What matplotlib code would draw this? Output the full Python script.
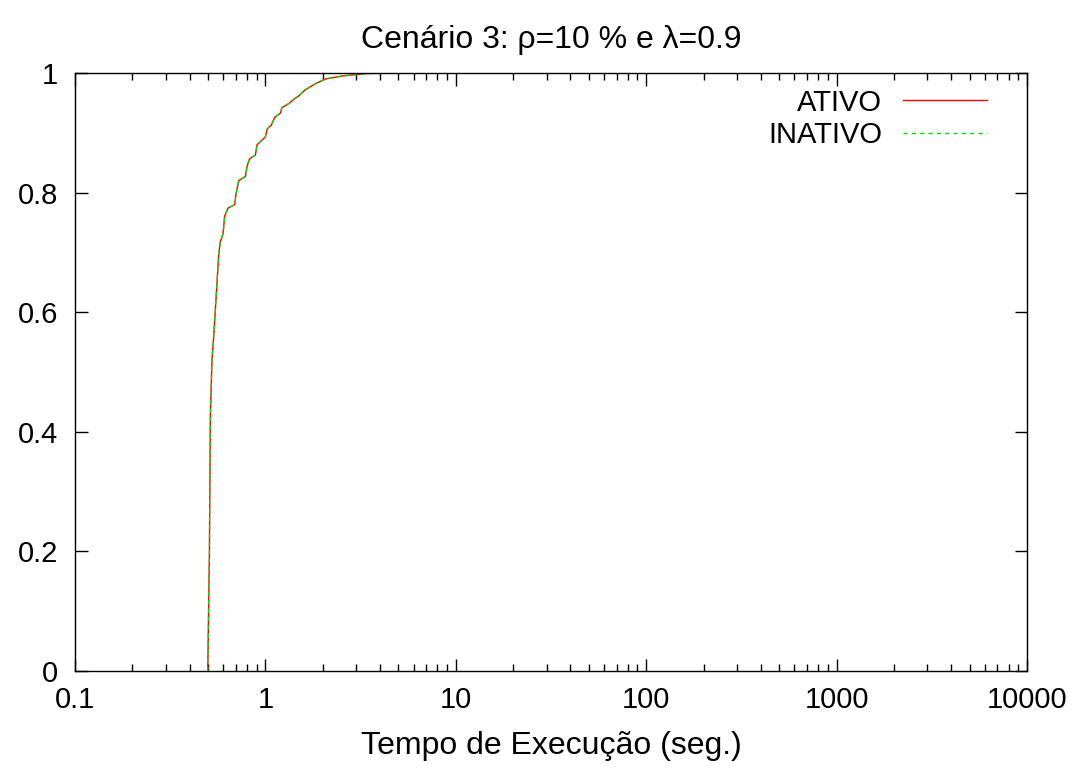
import matplotlib
matplotlib.use("Agg")
import matplotlib.pyplot as plt
from matplotlib.ticker import LogLocator, FixedLocator, FuncFormatter, NullFormatter

plt.rcParams['font.family'] = ['Liberation Sans', 'DejaVu Sans']

# CDF (time in seconds, cumulative fraction)
tempo = [0.498, 0.508, 0.514, 0.524, 0.535, 0.551, 0.569, 0.58, 0.599, 0.611,
         0.636, 0.69, 0.70, 0.724, 0.785, 0.80, 0.824, 0.886, 0.904, 0.96,
         1.0, 1.02, 1.075, 1.12, 1.2, 1.22, 1.33, 1.41, 1.5, 1.62,
         1.83, 2.07, 2.53, 3.35, 4.6]
ativo = [0.0, 0.195, 0.427, 0.52, 0.559, 0.625, 0.698, 0.718, 0.731, 0.761,
         0.774, 0.780, 0.797, 0.820, 0.827, 0.843, 0.856, 0.863, 0.880, 0.888,
         0.893, 0.906, 0.913, 0.926, 0.933, 0.942, 0.949, 0.956, 0.962, 0.972,
         0.982, 0.990, 0.995, 0.999, 1.0]
inativo = list(ativo)

fig = plt.figure(figsize=(10.84, 7.71), dpi=100)
ax = fig.add_axes([0.0692, 0.1297, 0.8782, 0.7756])

ax.plot(tempo, ativo, color='#ff0000', lw=1, label='ATIVO')
ax.plot(tempo, inativo, color='#00e000', lw=1, ls=(0, (3, 3)), label='INATIVO')

ax.set_xscale('log')
ax.set_xlim(0.1, 10000)
ax.set_ylim(0, 1)
ax.xaxis.set_major_locator(LogLocator(base=10, numticks=10))
ax.xaxis.set_minor_locator(LogLocator(base=10, subs=range(2, 10), numticks=100))
ax.xaxis.set_major_formatter(FuncFormatter(lambda v, p: '%g' % v))
ax.xaxis.set_minor_formatter(NullFormatter())
ax.yaxis.set_major_locator(FixedLocator([0, 0.2, 0.4, 0.6, 0.8, 1.0]))
ax.yaxis.set_major_formatter(FuncFormatter(lambda v, p: '%g' % v))

ax.tick_params(which='both', direction='in', top=True, right=True, labelsize=21, width=1)
ax.tick_params(which='major', length=9)
ax.tick_params(axis='x', which='major', pad=11)
ax.tick_params(axis='y', which='major', pad=12)
ax.tick_params(which='minor', length=5)
for s in ax.spines.values():
    s.set_linewidth(1)

ax.set_title('Cenário 3: ρ=10 % e λ=0.9', fontsize=23, pad=18)
ax.set_xlabel('Tempo de Execução (seg.)', fontsize=23, labelpad=12)

ax.legend(loc='upper right', bbox_to_anchor=(0.9706, 0.9933), frameon=False,
          markerfirst=False, fontsize=21, handlelength=2.9, handletextpad=0.7,
          labelspacing=0.15, borderaxespad=0)

fig.savefig('out.png', dpi=100)
